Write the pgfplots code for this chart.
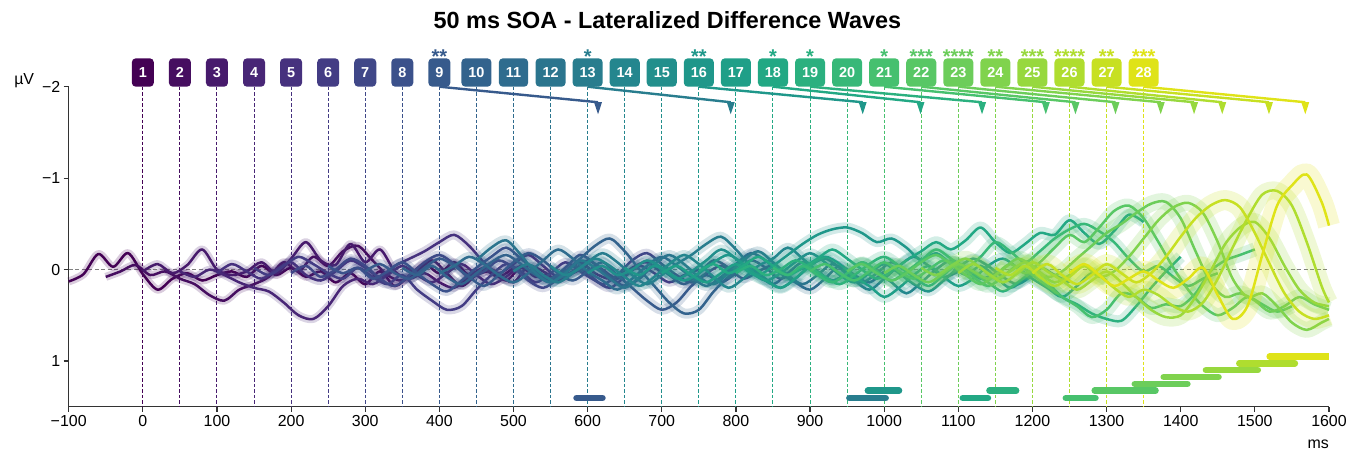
\documentclass[border=0pt]{standalone}
\usepackage{fontspec}
\setmainfont{Liberation Sans}
\usepackage{pgfplots}
\pgfplotsset{compat=1.18}
\definecolor{c1}{RGB}{68,1,84}
\definecolor{c2}{RGB}{70,14,96}
\definecolor{c3}{RGB}{71,26,108}
\definecolor{c4}{RGB}{72,38,118}
\definecolor{c5}{RGB}{70,49,126}
\definecolor{c6}{RGB}{67,60,132}
\definecolor{c7}{RGB}{64,71,136}
\definecolor{c8}{RGB}{59,81,139}
\definecolor{c9}{RGB}{55,90,140}
\definecolor{c10}{RGB}{51,99,141}
\definecolor{c11}{RGB}{47,108,142}
\definecolor{c12}{RGB}{43,117,142}
\definecolor{c13}{RGB}{40,125,142}
\definecolor{c14}{RGB}{36,134,142}
\definecolor{c15}{RGB}{34,143,140}
\definecolor{c16}{RGB}{31,151,138}
\definecolor{c17}{RGB}{31,159,136}
\definecolor{c18}{RGB}{34,168,132}
\definecolor{c19}{RGB}{43,176,127}
\definecolor{c20}{RGB}{55,184,120}
\definecolor{c21}{RGB}{70,192,111}
\definecolor{c22}{RGB}{88,199,101}
\definecolor{c23}{RGB}{108,205,90}
\definecolor{c24}{RGB}{128,211,77}
\definecolor{c25}{RGB}{151,216,62}
\definecolor{c26}{RGB}{175,221,47}
\definecolor{c27}{RGB}{199,224,34}
\definecolor{c28}{RGB}{223,227,24}
\pgfdeclareplotmark{dtri}{%
  \pgfpathmoveto{\pgfqpoint{-0.66\pgfplotmarksize}{0pt}}%
  \pgfpathlineto{\pgfqpoint{0.66\pgfplotmarksize}{0pt}}%
  \pgfpathlineto{\pgfqpoint{0pt}{-2\pgfplotmarksize}}%
  \pgfpathclose
  \pgfusepathqfill}
\newcommand\mywave[3]{%
  \addplot[draw=#1, line width=#2, draw opacity=0.2, smooth, tension=0.5, line join=round] coordinates {#3};
  \addplot[draw=#1, line width=2.5bp, smooth, tension=0.5, line join=round] coordinates {#3};}
\newcommand\mysep[2]{\addplot[#1, line width=1bp, dash pattern=on 3.5bp off 2bp] coordinates {(#2,-2.0)(#2,1.5)};}
\newcommand\myboxlab[3]{\node[fill=#1, text=white, font=\bfseries\fontsize{14.5}{15}\selectfont, rounded corners=4bp, minimum height=28.4bp, inner xsep=7bp, text height=10.4bp, text depth=0bp] at (axis cs:#2,-2.155) {#3};}
\newcommand\mystars[3]{\node[text=#1, font=\bfseries\fontsize{20}{20}\selectfont, anchor=base, inner sep=0pt] at (axis cs:#2,-2.255) {#3};}
\newcommand\myarrow[3]{%
  \addplot[#1, line width=2.4bp] coordinates {(#2,-2.0)(#3,-1.83)};
  \addplot[only marks, mark=dtri, mark size=6bp, color=#1] coordinates {(#3,-1.83)};}
\begin{document}
\begin{tikzpicture}
\useasboundingbox (0,0) rectangle (1348bp,450bp);
\begin{axis}[
  at={(68.7bp,43.3bp)}, anchor=south west,
  scale only axis, width=1260.3bp, height=320bp,
  xmin=-100, xmax=1600, ymin=-2, ymax=1.5, y dir=reverse,
  clip=false,
  axis x line*=bottom, axis y line*=left,
  axis line style={-, black!80, line width=1.2bp},
  every tick/.style={black!80, line width=1.2bp},
  major tick length=5bp, tick align=outside,
  xtick={-100,0,100,200,300,400,500,600,700,800,900,1000,1100,1200,1300,1400,1500,1600},
  xticklabels={−100,0,100,200,300,400,500,600,700,800,900,1000,1100,1200,1300,1400,1500,1600},
  ytick={-2,-1,0,1}, yticklabels={−2,−1,0,1},
  tick label style={font=\fontsize{16}{18}\selectfont},
]
% vertical dashed lines
\mysep{c1}{0}\mysep{c2}{50}\mysep{c3}{100}\mysep{c4}{150}\mysep{c5}{200}\mysep{c6}{250}\mysep{c7}{300}
\mysep{c8}{350}\mysep{c9}{400}\mysep{c10}{450}\mysep{c11}{500}\mysep{c12}{550}\mysep{c13}{600}\mysep{c14}{650}
\mysep{c15}{700}\mysep{c16}{750}\mysep{c17}{800}\mysep{c18}{850}\mysep{c19}{900}\mysep{c20}{950}\mysep{c21}{1000}
\mysep{c22}{1050}\mysep{c23}{1100}\mysep{c24}{1150}\mysep{c25}{1200}\mysep{c26}{1250}\mysep{c27}{1300}\mysep{c28}{1350}
% zero line
\addplot[gray, line width=1bp, dash pattern=on 4bp off 2.5bp] coordinates {(-100,0)(1600,0)};
% waves
\mywave{c1}{8bp}{(-100,0.13)(-80,0.05)(-60,-0.17)(-40,-0.03)(-20,-0.18)(0,0.05)(20,0.22)(40,0.10)(60,0.04)(80,0.12)(100,0.06)(120,0.02)(140,0.08)(160,-0.04)(180,0.06)(200,-0.02)(220,0.08)(240,0.02)(260,0.14)(280,0.04)(300,0.16)(320,0.02)(340,0.18)(360,0.06)(380,-0.06)(400,0.04)(420,-0.08)(440,0.06)(460,0.00)(480,0.08)(500,-0.02)}
\mywave{c2}{8bp}{(-50,0.08)(-30,0.02)(-10,-0.05)(10,0.06)(30,0.02)(50,0.10)(70,0.16)(90,0.28)(110,0.34)(130,0.22)(150,0.16)(170,0.08)(190,-0.08)(210,0.02)(230,-0.14)(250,-0.04)(270,-0.20)(290,-0.26)(310,-0.10)(330,0.06)(350,0.12)(370,0.02)(390,-0.10)(410,0.04)(430,0.18)(450,0.06)(470,0.02)(490,0.12)(510,-0.02)(530,0.08)(550,0.04)}
\mywave{c3}{8bp}{(0,0.02)(20,-0.06)(40,0.04)(60,-0.05)(80,-0.22)(100,0.00)(120,0.06)(140,0.02)(160,-0.08)(180,0.04)(200,-0.12)(220,-0.30)(240,-0.10)(260,-0.05)(280,-0.28)(300,-0.08)(320,-0.22)(340,0.02)(360,0.10)(380,0.04)(400,0.14)(420,0.20)(440,0.08)(460,-0.02)(480,0.06)(500,0.14)(520,-0.04)(540,0.02)(560,0.12)(580,0.04)(600,-0.04)}
\mywave{c4}{8bp}{(50,0.02)(70,0.08)(90,0.00)(110,0.06)(130,0.14)(150,0.20)(170,0.24)(190,0.36)(210,0.50)(230,0.54)(250,0.40)(270,0.18)(290,0.10)(310,0.16)(330,0.06)(350,-0.04)(370,0.06)(390,0.14)(410,0.04)(430,-0.06)(450,0.06)(470,0.16)(490,0.08)(510,-0.04)(530,0.06)(550,0.12)(570,0.02)(590,-0.08)(610,0.04)(630,0.10)(650,0.02)}
\mywave{c5}{9bp}{(100,0.04)(120,-0.06)(140,0.02)(160,0.10)(180,0.00)(200,-0.08)(220,0.06)(240,0.12)(260,0.02)(280,-0.10)(300,-0.02)(320,0.08)(340,-0.04)(360,-0.12)(380,-0.20)(400,-0.30)(420,-0.38)(440,-0.26)(460,-0.08)(480,0.04)(500,-0.06)(520,-0.16)(540,-0.04)(560,0.08)(580,0.02)(600,-0.10)(620,0.00)(640,0.10)(660,-0.02)(680,-0.08)(700,0.04)}
\mywave{c6}{9bp}{(150,-0.02)(170,0.06)(190,-0.04)(210,-0.14)(230,-0.06)(250,0.04)(270,0.10)(290,-0.02)(310,0.08)(330,0.16)(350,0.06)(370,0.22)(390,0.34)(410,0.44)(430,0.40)(450,0.22)(470,0.06)(490,-0.06)(510,0.02)(530,0.14)(550,0.04)(570,-0.08)(590,0.02)(610,0.12)(630,0.20)(650,0.08)(670,-0.04)(690,0.04)(710,0.14)(730,0.06)(750,0.00)}
\mywave{c7}{9bp}{(200,0.04)(220,-0.04)(240,0.08)(260,0.00)(280,-0.12)(300,-0.04)(320,0.10)(340,0.18)(360,0.06)(380,-0.08)(400,-0.16)(420,-0.06)(440,0.08)(460,0.02)(480,-0.10)(500,-0.02)(520,0.12)(540,0.20)(560,0.10)(580,-0.04)(600,0.04)(620,0.16)(640,0.06)(660,-0.10)(680,-0.18)(700,-0.06)(720,0.06)(740,0.14)(760,0.04)(780,-0.04)(800,0.06)}
\mywave{c8}{9bp}{(250,-0.04)(270,0.04)(290,-0.02)(310,0.10)(330,0.02)(350,-0.08)(370,0.04)(390,0.16)(410,0.24)(430,0.12)(450,-0.02)(470,-0.14)(490,-0.24)(510,-0.12)(530,0.02)(550,0.10)(570,-0.02)(590,-0.16)(610,-0.06)(630,0.08)(650,0.18)(670,0.10)(690,-0.04)(710,0.06)(730,0.16)(750,0.04)(770,-0.10)(790,-0.02)(810,0.10)(830,0.02)(850,-0.06)}
\mywave{c9}{10bp}{(300,0.02)(320,-0.06)(340,0.04)(360,0.10)(380,-0.02)(400,-0.12)(420,-0.04)(440,0.08)(460,0.18)(480,0.06)(500,-0.08)(520,-0.18)(540,-0.10)(560,0.04)(580,0.12)(600,0.02)(620,-0.08)(640,0.06)(660,0.20)(680,0.34)(700,0.44)(720,0.36)(740,0.18)(760,0.06)(780,0.14)(800,0.04)(820,-0.10)(840,-0.02)(860,0.10)(880,0.02)(900,-0.04)}
\mywave{c10}{10bp}{(350,-0.02)(370,0.06)(390,-0.04)(410,0.08)(430,0.16)(450,0.04)(470,-0.08)(490,-0.16)(510,-0.06)(530,0.06)(550,0.14)(570,0.02)(590,-0.12)(610,-0.26)(630,-0.34)(650,-0.20)(670,0.00)(690,0.18)(710,0.36)(730,0.48)(750,0.44)(770,0.24)(790,0.08)(810,-0.04)(830,0.06)(850,0.16)(870,0.04)(890,-0.08)(910,0.02)(930,0.12)(950,0.04)}
\mywave{c11}{10bp}{(400,0.04)(420,-0.04)(440,-0.14)(460,-0.06)(480,0.06)(500,0.14)(520,0.04)(540,-0.10)(560,-0.22)(580,-0.12)(600,0.02)(620,0.12)(640,0.22)(660,0.10)(680,-0.04)(700,-0.14)(720,-0.04)(740,0.08)(760,0.18)(780,0.08)(800,-0.06)(820,-0.18)(840,-0.10)(860,0.04)(880,0.14)(900,0.22)(920,0.10)(940,-0.04)(960,0.06)(980,0.14)(1000,0.02)}
\mywave{c12}{10bp}{(450,-0.10)(470,-0.24)(490,-0.32)(510,-0.16)(530,0.04)(550,0.14)(570,0.04)(590,-0.10)(610,-0.02)(630,0.10)(650,0.20)(670,0.08)(690,-0.06)(710,-0.16)(730,-0.06)(750,0.08)(770,0.16)(790,0.04)(810,-0.10)(830,-0.20)(850,-0.08)(870,0.06)(890,0.16)(910,0.06)(930,-0.06)(950,0.04)(970,0.14)(990,0.04)(1010,-0.08)(1030,0.02)(1050,0.10)}
\mywave{c13}{10bp}{(500,0.02)(520,-0.06)(540,0.06)(560,0.14)(580,0.04)(600,-0.08)(620,-0.18)(640,-0.08)(660,0.06)(680,0.16)(700,0.06)(720,-0.06)(740,-0.16)(760,-0.28)(780,-0.36)(800,-0.22)(820,-0.04)(840,0.10)(860,0.20)(880,0.10)(900,-0.04)(920,-0.12)(940,-0.02)(960,0.12)(980,0.22)(1000,0.10)(1020,-0.04)(1040,-0.14)(1060,-0.04)(1080,0.08)(1100,0.02)}
\mywave{c14}{10bp}{(550,-0.04)(570,0.06)(590,-0.02)(610,-0.12)(630,-0.04)(650,0.08)(670,0.18)(690,0.08)(710,-0.06)(730,-0.16)(750,-0.06)(770,0.08)(790,0.20)(810,0.10)(830,-0.04)(850,-0.12)(870,-0.24)(890,-0.12)(910,0.02)(930,0.12)(950,0.04)(970,-0.08)(990,0.02)(1010,0.14)(1030,0.26)(1050,0.14)(1070,0.00)(1090,-0.10)(1110,-0.02)(1130,0.10)(1150,0.04)}
\mywave{c15}{10bp}{(600,0.04)(620,-0.04)(640,0.06)(660,0.00)(680,-0.10)(700,-0.02)(720,0.10)(740,0.02)(760,-0.10)(780,-0.22)(800,-0.12)(820,0.02)(840,0.12)(860,0.04)(880,-0.08)(900,-0.18)(920,-0.08)(940,0.06)(960,0.14)(980,0.04)(1000,-0.06)(1020,0.04)(1040,0.16)(1060,0.24)(1080,0.12)(1100,-0.02)(1120,-0.12)(1140,-0.04)(1160,0.08)(1180,0.16)(1200,0.06)}
\mywave{c16}{10bp}{(650,-0.02)(670,0.06)(690,-0.04)(710,0.04)(730,0.12)(750,0.04)(770,-0.08)(790,-0.16)(810,-0.06)(830,0.06)(850,-0.04)(870,-0.16)(890,-0.28)(910,-0.38)(930,-0.44)(950,-0.46)(970,-0.40)(990,-0.30)(1010,-0.34)(1030,-0.24)(1050,-0.10)(1070,-0.18)(1090,-0.06)(1110,0.06)(1130,-0.04)(1150,0.08)(1170,0.20)(1190,0.10)(1210,-0.02)(1230,0.06)(1250,0.14)}
\mywave{c17}{12bp}{(700,0.04)(720,-0.04)(740,0.06)(760,0.14)(780,0.04)(800,-0.06)(820,0.04)(840,0.12)(860,0.20)(880,0.10)(900,-0.04)(920,-0.14)(940,-0.06)(960,0.08)(980,0.18)(1000,0.30)(1020,0.20)(1040,0.06)(1060,-0.04)(1080,0.08)(1100,0.18)(1120,0.10)(1140,-0.04)(1160,-0.12)(1180,-0.02)(1200,0.10)(1220,0.20)(1240,0.30)(1260,0.18)(1280,0.04)(1300,0.12)}
\mywave{c18}{12bp}{(750,0.02)(770,-0.06)(790,0.04)(810,-0.04)(830,-0.14)(850,-0.04)(870,0.06)(890,-0.02)(910,-0.12)(930,-0.22)(950,-0.12)(970,0.00)(990,0.10)(1010,0.02)(1030,-0.10)(1050,-0.20)(1070,-0.30)(1090,-0.22)(1110,-0.32)(1130,-0.46)(1150,-0.30)(1170,-0.18)(1190,-0.28)(1210,-0.40)(1230,-0.38)(1250,-0.54)(1270,-0.40)(1290,-0.28)(1310,-0.42)(1330,-0.60)(1350,-0.52)}
\mywave{c19}{12bp}{(800,0.04)(820,-0.04)(840,0.06)(860,0.00)(880,-0.10)(900,-0.02)(920,0.08)(940,0.16)(960,0.06)(980,-0.06)(1000,-0.14)(1020,-0.04)(1040,0.08)(1060,0.18)(1080,0.06)(1100,-0.06)(1120,0.04)(1140,0.14)(1160,0.24)(1180,0.14)(1200,0.04)(1220,0.14)(1240,0.30)(1260,0.38)(1280,0.48)(1300,0.54)(1320,0.56)(1340,0.40)(1360,0.20)(1380,0.02)(1400,-0.14)}
\mywave{c20}{12bp}{(850,-0.02)(870,0.06)(890,-0.04)(910,0.06)(930,0.14)(950,0.04)(970,-0.08)(990,0.02)(1010,0.12)(1030,0.02)(1050,-0.10)(1070,-0.22)(1090,-0.12)(1110,-0.02)(1130,-0.14)(1150,-0.30)(1170,-0.20)(1190,-0.08)(1210,-0.20)(1230,-0.34)(1250,-0.44)(1270,-0.50)(1290,-0.42)(1310,-0.30)(1330,-0.12)(1350,0.02)(1370,-0.04)(1390,0.08)(1410,0.18)(1430,0.10)(1450,0.04)}
\mywave{c21}{14bp}{(900,0.02)(920,-0.06)(940,0.04)(960,0.12)(980,0.02)(1000,-0.08)(1020,0.02)(1040,0.10)(1060,0.00)(1080,-0.10)(1100,-0.04)(1120,0.08)(1140,0.18)(1160,0.08)(1180,-0.04)(1200,0.06)(1220,0.18)(1240,0.30)(1260,0.40)(1280,0.52)(1300,0.44)(1320,0.26)(1340,0.30)(1360,0.42)(1380,0.38)(1400,0.40)(1420,0.26)(1440,0.02)(1460,-0.10)(1480,-0.16)(1500,-0.22)}
\mywave{c22}{14bp}{(950,0.02)(970,-0.06)(990,0.04)(1010,0.12)(1030,0.04)(1050,-0.08)(1070,-0.16)(1090,-0.06)(1110,0.06)(1130,0.16)(1150,0.06)(1170,-0.06)(1190,0.04)(1210,-0.08)(1230,-0.24)(1250,-0.38)(1270,-0.30)(1290,-0.46)(1310,-0.64)(1330,-0.70)(1350,-0.56)(1370,-0.30)(1390,-0.02)(1410,0.22)(1430,0.40)(1450,0.50)(1470,0.42)(1490,0.30)(1510,0.38)(1530,0.46)(1550,0.40)}
\mywave{c23}{16bp}{(1000,0.04)(1020,-0.04)(1040,0.06)(1060,0.14)(1080,0.04)(1100,-0.06)(1120,0.02)(1140,0.10)(1160,0.00)(1180,-0.12)(1200,-0.04)(1220,0.08)(1240,0.02)(1260,-0.12)(1280,-0.26)(1300,-0.40)(1320,-0.50)(1340,-0.62)(1360,-0.72)(1380,-0.74)(1400,-0.56)(1420,-0.20)(1440,0.14)(1460,0.30)(1480,0.26)(1500,0.34)(1520,0.46)(1540,0.40)(1560,0.30)(1580,0.38)(1600,0.44)}
\mywave{c24}{16bp}{(1050,-0.02)(1070,0.06)(1090,-0.04)(1110,-0.12)(1130,-0.02)(1150,0.10)(1170,0.02)(1190,-0.08)(1210,0.04)(1230,0.14)(1250,0.06)(1270,-0.04)(1290,0.08)(1310,0.02)(1330,-0.14)(1350,-0.34)(1370,-0.54)(1390,-0.68)(1410,-0.73)(1430,-0.62)(1450,-0.30)(1470,0.10)(1490,0.30)(1510,0.26)(1530,0.40)(1550,0.58)(1570,0.66)(1590,0.58)(1600,0.54)}
\mywave{c25}{18bp}{(1100,0.04)(1120,-0.06)(1140,0.04)(1160,0.14)(1180,0.04)(1200,-0.08)(1220,0.02)(1240,0.12)(1260,0.22)(1280,0.12)(1300,0.02)(1320,0.14)(1340,0.30)(1360,0.44)(1380,0.52)(1400,0.50)(1420,0.30)(1440,0.02)(1460,-0.28)(1480,-0.46)(1500,-0.52)(1520,-0.34)(1540,-0.04)(1560,0.22)(1580,0.36)(1600,0.40)}
\mywave{c26}{18bp}{(1150,-0.02)(1170,0.06)(1190,-0.04)(1210,0.08)(1230,0.18)(1250,0.08)(1270,-0.04)(1290,0.06)(1310,0.20)(1330,0.30)(1350,0.22)(1370,0.28)(1390,0.40)(1410,0.46)(1430,0.36)(1450,0.10)(1470,-0.24)(1490,-0.56)(1510,-0.82)(1530,-0.86)(1550,-0.70)(1570,-0.30)(1590,0.18)(1600,0.36)}
\mywave{c27}{20bp}{(1200,0.04)(1220,-0.06)(1240,0.06)(1260,0.16)(1280,0.06)(1300,-0.06)(1320,0.04)(1340,0.14)(1360,0.04)(1380,-0.14)(1400,-0.36)(1420,-0.56)(1440,-0.70)(1460,-0.76)(1480,-0.68)(1500,-0.40)(1520,-0.06)(1540,0.26)(1560,0.46)(1580,0.54)(1600,0.50)}
\mywave{c28}{22bp}{(1250,0.04)(1270,-0.06)(1290,0.06)(1310,0.18)(1330,0.10)(1350,0.02)(1370,0.12)(1390,0.20)(1410,0.10)(1430,-0.02)(1450,0.28)(1470,0.54)(1490,0.40)(1510,-0.16)(1530,-0.70)(1550,-0.92)(1570,-1.04)(1590,-0.74)(1600,-0.48)}
% significance bars
\addplot[c9, line width=6.5bp, line cap=round] coordinates {(585,1.405)(620,1.405)};
\addplot[c13, line width=6.5bp, line cap=round] coordinates {(953,1.405)(1002,1.405)};
\addplot[c16, line width=6.5bp, line cap=round] coordinates {(978,1.325)(1020,1.325)};
\addplot[c18, line width=6.5bp, line cap=round] coordinates {(1106,1.405)(1140,1.405)};
\addplot[c19, line width=6.5bp, line cap=round] coordinates {(1142,1.325)(1178,1.325)};
\addplot[c21, line width=6.5bp, line cap=round] coordinates {(1245,1.405)(1285,1.405)};
\addplot[c22, line width=6.5bp, line cap=round] coordinates {(1284,1.325)(1366,1.325)};
\addplot[c23, line width=6.5bp, line cap=round] coordinates {(1338,1.25)(1409,1.25)};
\addplot[c24, line width=6.5bp, line cap=round] coordinates {(1377,1.175)(1451,1.175)};
\addplot[c25, line width=6.5bp, line cap=round] coordinates {(1434,1.10)(1504,1.10)};
\addplot[c26, line width=6.5bp, line cap=round] coordinates {(1479,1.025)(1554,1.025)};
\addplot[c28, line width=6.5bp, line cap=round] coordinates {(1520,0.95)(1560,0.95)};
\addplot[c28, line width=6.5bp] coordinates {(1550,0.95)(1600,0.95)};
% arrows
\myarrow{c9}{400}{614}
\myarrow{c13}{600}{793}
\myarrow{c16}{750}{971}
\myarrow{c18}{850}{1049}
\myarrow{c19}{900}{1132}
\myarrow{c21}{1000}{1218}
\myarrow{c22}{1050}{1258}
\myarrow{c23}{1100}{1312}
\myarrow{c24}{1150}{1373}
\myarrow{c25}{1200}{1418}
\myarrow{c26}{1250}{1456}
\myarrow{c27}{1300}{1519}
\myarrow{c28}{1350}{1568}
% boxes
\myboxlab{c1}{0}{1}\myboxlab{c2}{50}{2}\myboxlab{c3}{100}{3}\myboxlab{c4}{150}{4}\myboxlab{c5}{200}{5}
\myboxlab{c6}{250}{6}\myboxlab{c7}{300}{7}\myboxlab{c8}{350}{8}\myboxlab{c9}{400}{9}\myboxlab{c10}{450}{10}
\myboxlab{c11}{500}{11}\myboxlab{c12}{550}{12}\myboxlab{c13}{600}{13}\myboxlab{c14}{650}{14}\myboxlab{c15}{700}{15}
\myboxlab{c16}{750}{16}\myboxlab{c17}{800}{17}\myboxlab{c18}{850}{18}\myboxlab{c19}{900}{19}\myboxlab{c20}{950}{20}
\myboxlab{c21}{1000}{21}\myboxlab{c22}{1050}{22}\myboxlab{c23}{1100}{23}\myboxlab{c24}{1150}{24}\myboxlab{c25}{1200}{25}
\myboxlab{c26}{1250}{26}\myboxlab{c27}{1300}{27}\myboxlab{c28}{1350}{28}
% stars
\mystars{c9}{400}{**}\mystars{c13}{600}{*}\mystars{c16}{750}{**}\mystars{c18}{850}{*}\mystars{c19}{900}{*}
\mystars{c21}{1000}{*}\mystars{c22}{1050}{***}\mystars{c23}{1100}{****}\mystars{c24}{1150}{**}
\mystars{c25}{1200}{***}\mystars{c26}{1250}{****}\mystars{c27}{1300}{**}\mystars{c28}{1350}{***}
% texts
\node[anchor=base, font=\bfseries\fontsize{23.5}{25}\selectfont] at (axis cs:707.7,-2.642) {50 ms SOA - Lateralized Difference Waves};
\node[anchor=base, font=\fontsize{16}{18}\selectfont, inner sep=0pt] at (axis cs:-160,-2.019) {µV};
\node[anchor=base east, font=\fontsize{16}{18}\selectfont, inner sep=0pt] at (axis cs:1600,1.952) {ms};
\end{axis}
\end{tikzpicture}
\end{document}
